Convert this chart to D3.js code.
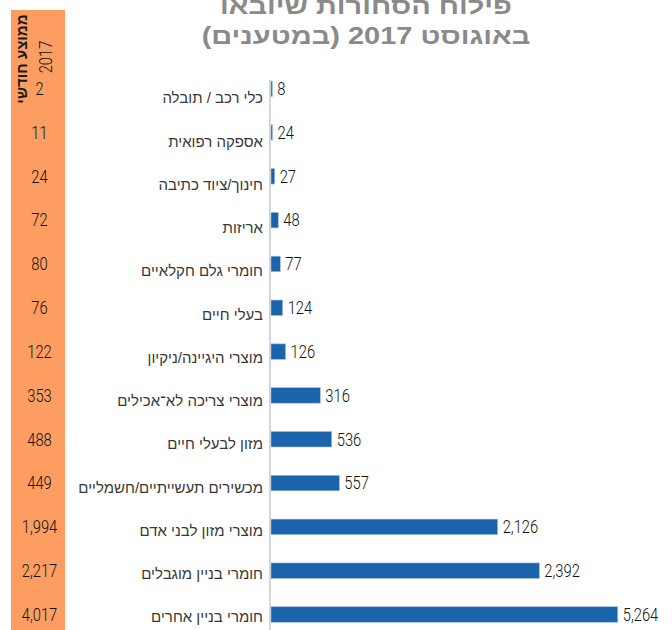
<!DOCTYPE html>
<html>
<head>
<meta charset="utf-8">
<script src="https://cdn.jsdelivr.net/npm/d3@7"></script>
<style>
  body { margin: 0; background: #fff; }
  svg { display: block; }
</style>
</head>
<body>
<div id="chart"></div>
<script>
var width = 672;
var height = 630;

var titleLines = ["פילוח הסחורות שיובאו", "באוגוסט 2017 (במטענים)"];
var sideHeader = ["ממוצע חודשי", "2017"];

var categories = [
    "כלי רכב / תובלה",
    "אספקה רפואית",
    "חינוך/ציוד כתיבה",
    "אריזות",
    "חומרי גלם חקלאיים",
    "בעלי חיים",
    "מוצרי היגיינה/ניקיון",
    "מוצרי צריכה לא־אכילים",
    "מזון לבעלי חיים",
    "מכשירים תעשייתיים/חשמליים",
    "מוצרי מזון לבני אדם",
    "חומרי בניין מוגבלים",
    "חומרי בניין אחרים"
];

// printed value next to each bar (loads, August 2017)
var august = [8, 24, 27, 48, 77, 124, 126, 316, 536, 557, 2126, 2392, 5264];

// bar lengths as drawn in the source, which are not to scale with the printed numbers
var barValues = [12, 13, 33, 65, 83, 104, 130, 440, 542, 610, 2024, 2396, 3096];

// monthly average 2017 (orange column)
var monthlyAvg = [2, 11, 24, 72, 80, 76, 122, 353, 488, 449, 1994, 2217, 4017];

var fmt = d3.format(",");
var textFont = "'Liberation Sans', Arial, sans-serif";
var numFont = "Roboto, 'Liberation Sans', sans-serif";
var narrow = 0.82; // no narrow face installed, so squeeze the numbers

var svg = d3.select("#chart").append("svg")
    .attr("width", width)
    .attr("height", height);

svg.append("rect")
    .attr("width", width)
    .attr("height", height)
    .attr("fill", "#fff");

var x = d3.scaleLinear()
    .domain([0, 3100])
    .range([271, 618.2]);

var y = d3.scalePoint()
    .domain(categories)
    .range([88.7, 614.5]);

var yLabel = d3.scalePoint()
    .domain(categories)
    .range([98, 617]);

var barH = 15.5;

// title
svg.append("g")
    .attr("transform", "translate(366,0) scale(1.26,1)")
    .selectAll("text")
    .data(titleLines)
    .enter()
    .append("text")
    .attr("x", 0)
    .attr("y", function (d, i) { return 14 + i * 30.5; })
    .attr("direction", "rtl")
    .attr("text-anchor", "middle")
    .attr("font-family", textFont)
    .attr("font-weight", "bold")
    .attr("font-size", "23px")
    .attr("fill", "#8a8a8a")
    .text(function (d) { return d; });

// orange side column
svg.append("rect")
    .attr("x", 11)
    .attr("y", 10)
    .attr("width", 54)
    .attr("height", height - 10)
    .attr("fill", "#fd9d62");

svg.append("text")
    .attr("transform", "translate(26.5,59) rotate(-90)")
    .attr("direction", "rtl")
    .attr("text-anchor", "middle")
    .attr("font-family", textFont)
    .attr("font-weight", "bold")
    .attr("font-size", "15px")
    .attr("fill", "#1a1a1a")
    .text(sideHeader[0]);

svg.append("text")
    .attr("transform", "translate(51.5,57) rotate(-90) scale(" + narrow + ",1)")
    .attr("text-anchor", "middle")
    .attr("font-family", numFont)
    .attr("font-weight", 300)
    .attr("font-size", "18px")
    .attr("fill", "#111")
    .text(sideHeader[1]);

svg.append("g")
    .selectAll("text")
    .data(monthlyAvg)
    .enter()
    .append("text")
    .attr("transform", function (d, i) {
        return "translate(39.5," + y(categories[i]) + ") scale(" + narrow + ",1)";
    })
    .attr("dy", "0.35em")
    .attr("text-anchor", "middle")
    .attr("font-family", numFont)
    .attr("font-weight", 300)
    .attr("font-size", "18px")
    .attr("fill", "#111")
    .text(function (d) { return fmt(d); });

// vertical axis line
svg.append("line")
    .attr("x1", 270)
    .attr("x2", 270)
    .attr("y1", 80)
    .attr("y2", height)
    .attr("stroke", "#d6d6d6")
    .attr("stroke-width", 2);

// category labels
svg.append("g")
    .selectAll("text")
    .data(categories)
    .enter()
    .append("text")
    .attr("x", 263)
    .attr("y", function (d) { return yLabel(d); })
    .attr("dy", "0.35em")
    .attr("direction", "rtl")
    .attr("text-anchor", "start")
    .attr("font-family", textFont)
    .attr("font-size", "15px")
    .attr("fill", "#383838")
    .text(function (d) { return d; });

// bars
svg.append("g")
    .selectAll("rect")
    .data(barValues)
    .enter()
    .append("rect")
    .attr("x", x(0))
    .attr("y", function (d, i) { return y(categories[i]) - barH / 2; })
    .attr("width", function (d) { return x(d) - x(0); })
    .attr("height", barH)
    .attr("fill", "#1b64ab")
    .attr("stroke", "#9dbfe3")
    .attr("stroke-width", 0.6);

// value labels
svg.append("g")
    .selectAll("text")
    .data(august)
    .enter()
    .append("text")
    .attr("transform", function (d, i) {
        return "translate(" + (x(barValues[i]) + 5) + "," + y(categories[i]) + ") scale(" + narrow + ",1)";
    })
    .attr("dy", "0.35em")
    .attr("font-family", numFont)
    .attr("font-weight", 300)
    .attr("font-size", "18px")
    .attr("fill", "#111")
    .text(function (d) { return fmt(d); });
</script>
</body>
</html>
